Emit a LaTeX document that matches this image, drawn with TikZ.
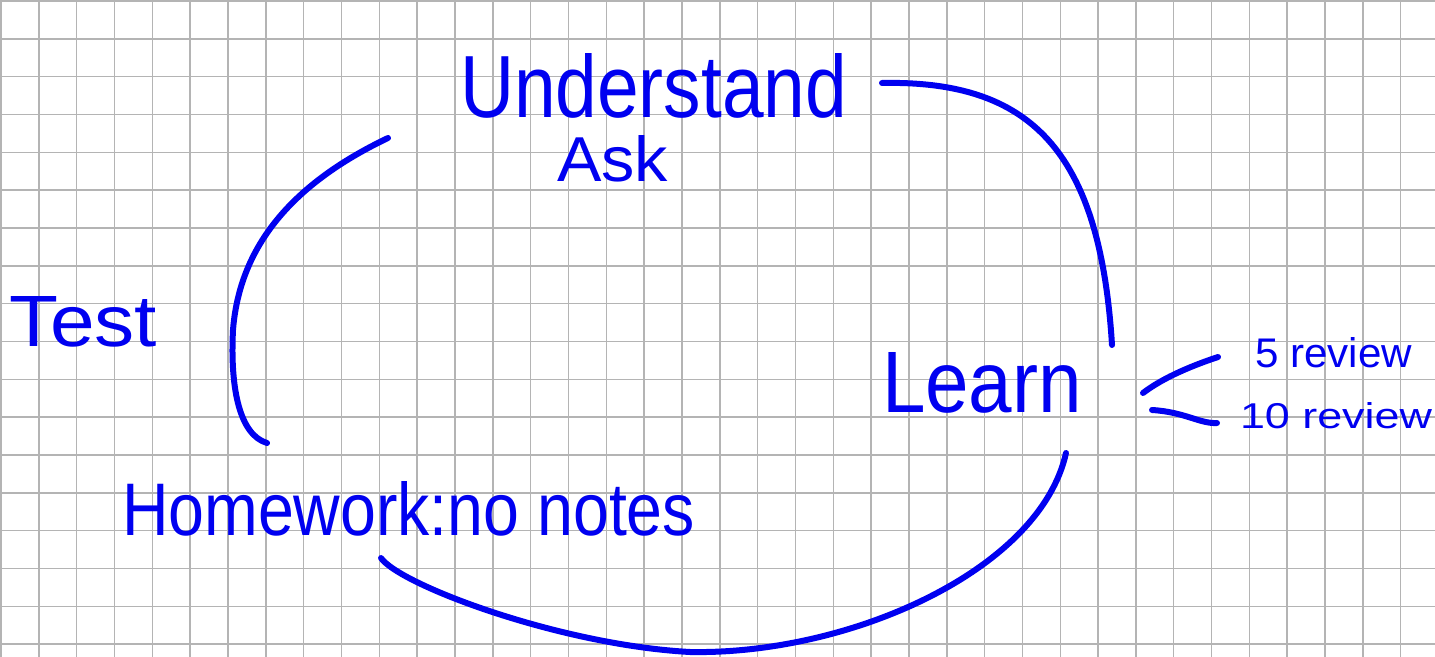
\documentclass[tikz,border=0pt]{standalone}
\usepackage{fontspec}
\setmainfont{Liberation Sans}
\usepackage{graphicx}
\definecolor{ink}{RGB}{0,0,240}
\definecolor{gridgray}{RGB}{180,180,180}
\tikzset{
  gridline/.style={draw=gridgray, line width=0.75pt},
  pen/.style={draw=ink, line width=3pt, line cap=round, line join=round},
  txt/.style={text=ink, inner sep=0pt, outer sep=0pt, anchor=base west},
}
\newcommand{\hwtext}[3]{\resizebox{#1}{#2}{#3}}
\begin{document}
\begin{tikzpicture}[x=0.5pt, y=-0.5pt]
\useasboundingbox (0,0) rectangle (1435,657);
\fill[white] (0,0) rectangle (1435,657);
% grid paper
\foreach \k in {0,...,37} { \draw[gridline] ({1+37.83*\k},0) -- ({1+37.83*\k},657); }
\foreach \k in {0,...,17} { \draw[gridline] (0,{1+37.83*\k}) -- (1435,{1+37.83*\k}); }

% texts
\node[txt] (understand) at (460,118) {\hwtext{193.5pt}{32pt}{Understand}};
\node[txt] (ask) at (557,182) {\hwtext{55.5pt}{23pt}{Ask}};
\node[txt] (test) at (10,347) {\hwtext{73.5pt}{25pt}{Test}};
\node[txt] (learn) at (882,413) {\hwtext{100pt}{30pt}{Learn}};
\node[txt] (homework) at (122,535) {\hwtext{286.5pt}{27pt}{Homework:no notes}};
\node[txt] (five) at (1255,368) {\hwtext{78.5pt}{15pt}{5 review}};
\node[txt] (ten) at (1240,429) {\hwtext{96pt}{13pt}{10 review}};

% stroke end points
\coordinate (l1) at (388,138);
\coordinate (l2) at (233,330);
\coordinate (l3) at (267,443);
\coordinate (r1) at (882,83);
\coordinate (r3) at (1112,345);
\coordinate (b1) at (381,558);
\coordinate (b2) at (690,652);
\coordinate (b3) at (1066,453);
\coordinate (u1) at (1218,357);
\coordinate (u2) at (1143,393);
\coordinate (w1) at (1152,410);
\coordinate (w2) at (1217,423);

% strokes
\draw[pen] (l1) .. controls (300,180) and (240,240) .. (l2)
                .. controls (230,390) and (240,435) .. (l3);
\draw[pen] (r1) .. controls (1030,80) and (1100,150) .. (r3);
\draw[pen] (b1) .. controls (400,585) and (560,645) .. (b2)
                .. controls (850,655) and (1040,570) .. (b3);
\draw[pen] (u1) .. controls (1185,368) and (1160,380) .. (u2);
\draw[pen] (w1) .. controls (1185,412) and (1200,424) .. (w2);
\end{tikzpicture}
\end{document}
